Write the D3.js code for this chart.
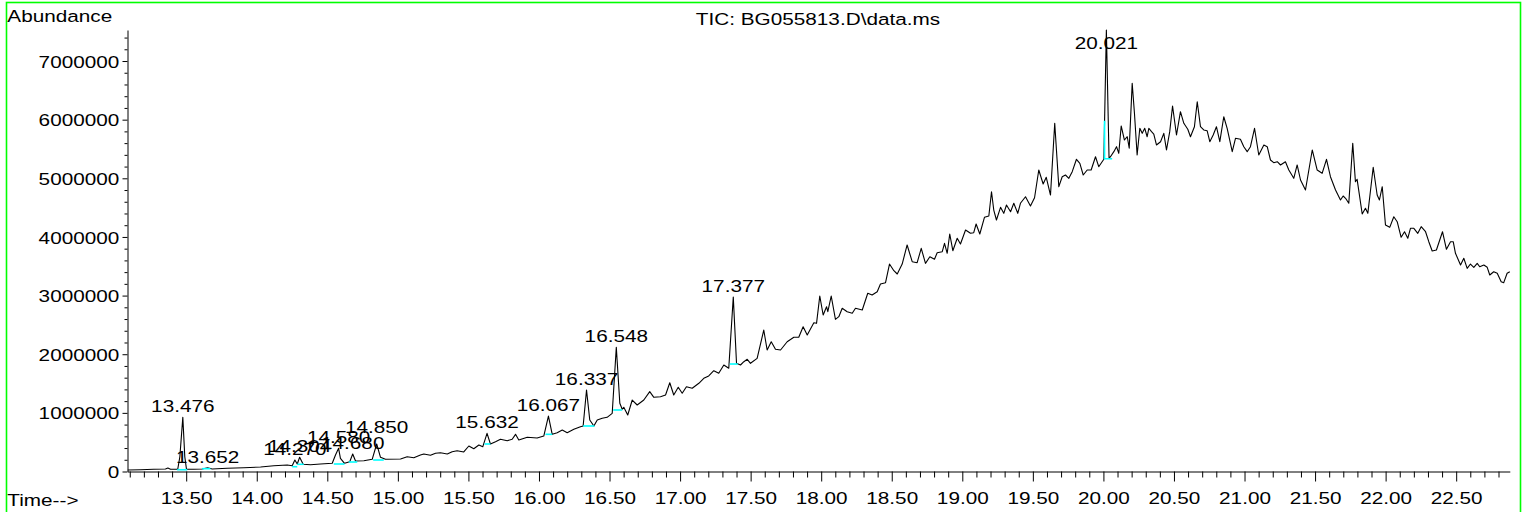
<!DOCTYPE html>
<html><head><meta charset="utf-8">
<script src="https://cdn.jsdelivr.net/npm/d3@7/dist/d3.min.js"></script>
<style>body{margin:0;background:#fff}svg text{font-family:"Liberation Sans",Arial,sans-serif;fill:#000}</style>
</head><body><svg id="c" width="1526" height="512"></svg>
<script>
const times=[13.086,13.176,13.270,13.353,13.370,13.389,13.440,13.455,13.476,13.490,13.502,13.554,13.613,13.652,13.684,13.791,13.908,14.027,14.121,14.216,14.251,14.270,14.287,14.304,14.329,14.381,14.452,14.535,14.558,14.580,14.593,14.622,14.659,14.680,14.700,14.759,14.818,14.850,14.877,14.912,15.019,15.066,15.113,15.160,15.184,15.231,15.267,15.302,15.350,15.385,15.420,15.467,15.503,15.538,15.574,15.602,15.632,15.656,15.692,15.727,15.775,15.810,15.834,15.857,15.917,15.987,16.034,16.067,16.094,16.129,16.165,16.200,16.247,16.294,16.313,16.337,16.360,16.389,16.413,16.448,16.483,16.519,16.548,16.573,16.590,16.601,16.629,16.661,16.696,16.743,16.785,16.814,16.861,16.897,16.927,16.955,16.987,17.015,17.045,17.086,17.133,17.168,17.203,17.239,17.274,17.310,17.345,17.377,17.400,17.428,17.452,17.476,17.499,17.546,17.593,17.617,17.646,17.676,17.712,17.759,17.806,17.841,17.872,17.901,17.948,17.967,17.990,18.014,18.038,18.047,18.071,18.101,18.125,18.149,18.184,18.220,18.243,18.291,18.330,18.361,18.397,18.420,18.456,18.484,18.515,18.539,18.574,18.609,18.645,18.680,18.709,18.739,18.770,18.803,18.822,18.858,18.874,18.893,18.911,18.933,18.964,18.987,19.023,19.058,19.081,19.098,19.124,19.157,19.188,19.207,19.223,19.242,19.271,19.294,19.313,19.342,19.365,19.393,19.412,19.448,19.483,19.512,19.542,19.573,19.595,19.625,19.655,19.684,19.708,19.731,19.755,19.779,19.809,19.833,19.857,19.885,19.913,19.944,19.967,20.003,20.021,20.040,20.050,20.074,20.093,20.109,20.126,20.149,20.169,20.183,20.204,20.220,20.239,20.258,20.275,20.293,20.310,20.322,20.341,20.357,20.376,20.405,20.428,20.447,20.470,20.490,20.518,20.546,20.570,20.598,20.617,20.645,20.665,20.688,20.711,20.735,20.754,20.778,20.801,20.825,20.853,20.877,20.913,20.936,20.971,20.995,21.019,21.042,21.071,21.101,21.137,21.161,21.184,21.207,21.232,21.255,21.290,21.314,21.349,21.373,21.397,21.432,21.480,21.515,21.550,21.581,21.609,21.645,21.680,21.699,21.716,21.739,21.767,21.786,21.798,21.834,21.857,21.874,21.912,21.940,21.956,21.976,21.999,22.029,22.058,22.082,22.110,22.134,22.157,22.176,22.200,22.228,22.252,22.283,22.306,22.330,22.360,22.403,22.431,22.460,22.479,22.495,22.531,22.554,22.578,22.601,22.625,22.649,22.667,22.696,22.720,22.738,22.766,22.791,22.819,22.837,22.861,22.880];
const abundance=[26000,31000,38000,43000,60000,38000,38000,252000,924000,252000,38000,38000,43000,65000,43000,55000,65000,77000,99000,111000,99000,196000,128000,242000,123000,116000,128000,140000,281000,396000,225000,140000,167000,298000,179000,184000,208000,469000,242000,208000,213000,252000,235000,281000,298000,276000,310000,321000,298000,338000,355000,333000,435000,389000,452000,423000,651000,469000,508000,549000,525000,549000,634000,537000,583000,571000,605000,946000,634000,662000,708000,662000,720000,764000,776000,1390000,878000,776000,878000,907000,924000,992000,2118000,1163000,1061000,1095000,963000,1219000,1134000,1219000,1361000,1265000,1276000,1305000,1514000,1305000,1436000,1334000,1446000,1419000,1504000,1589000,1629000,1719000,1675000,1816000,1760000,2976000,1845000,1816000,1872000,1913000,1845000,1930000,2413000,2072000,2213000,2084000,2072000,2213000,2289000,2289000,2469000,2328000,2537000,2527000,2993000,2669000,2810000,2725000,2993000,2595000,2640000,2783000,2725000,2698000,2783000,2754000,3039000,3010000,3066000,3197000,3220000,3538000,3424000,3368000,3538000,3863000,3578000,3561000,3806000,3550000,3663000,3619000,3731000,3748000,3891000,3721000,4050000,3765000,3977000,3880000,4118000,4062000,4072000,4221000,4050000,4335000,4357000,4771000,4459000,4289000,4505000,4403000,4545000,4430000,4574000,4403000,4574000,4686000,4528000,4669000,5141000,4903000,5017000,4715000,5938000,4857000,5027000,5056000,5000000,5113000,5324000,5256000,5056000,5141000,5141000,5368000,5198000,5324000,7529000,5340000,5368000,5454000,5539000,5426000,5892000,5653000,5709000,5512000,6620000,6108000,5397000,5853000,5767000,5853000,5709000,5853000,5795000,5755000,5568000,5624000,5767000,5483000,5795000,6233000,5738000,6136000,5938000,5836000,5709000,5880000,6306000,5880000,5824000,5812000,5624000,5738000,5880000,5624000,6050000,5853000,5454000,5682000,5665000,5539000,5454000,5539000,5853000,5397000,5568000,5539000,5312000,5266000,5283000,5227000,5283000,5141000,5000000,5227000,4971000,4800000,5483000,5141000,5085000,5324000,5027000,4800000,4630000,4698000,4659000,4574000,5597000,4942000,4983000,4391000,4488000,4403000,5188000,4715000,4630000,4857000,4204000,4164000,4345000,4260000,3994000,4089000,3977000,4147000,4147000,4062000,4175000,4089000,3919000,3760000,3777000,4089000,3789000,3919000,3919000,3721000,3521000,3636000,3465000,3538000,3482000,3550000,3492000,3521000,3482000,3351000,3407000,3380000,3237000,3220000,3380000,3407000];

const peakTimes=[13.476,13.652,14.270,14.304,14.580,14.680,14.850,15.632,16.067,16.337,16.548,17.377,20.021];
const peakLabels=["13.476","13.652","14.270","14.304","14.580","14.680","14.850","15.632","16.067","16.337","16.548","17.377","20.021"];
const peakHeights=[924000,65000,196000,242000,396000,298000,469000,651000,946000,1390000,2118000,2976000,7529000];

const baseStart=[13.436,13.613,14.251,14.287,14.546,14.652,14.825,15.614,16.046,16.313,16.526,17.352,20.008];
const baseEnd=[13.507,13.672,14.287,14.333,14.622,14.712,14.900,15.656,16.094,16.393,16.590,17.409,20.062];
const baseLevel=[30000,48000,82000,123000,128000,162000,196000,469000,634000,776000,1049000,1833000,5333000];
const baseTop=[30000,48000,82000,123000,128000,162000,196000,469000,634000,776000,1049000,1833000,5982000];

const yTickValues=[0,1000000,2000000,3000000,4000000,5000000,6000000,7000000];
const xTickValues=[13.5,14,14.5,15,15.5,16,16.5,17,17.5,18,18.5,19,19.5,20,20.5,21,21.5,22,22.5];
const xTickLabels=["13.50","14.00","14.50","15.00","15.50","16.00","16.50","17.00","17.50","18.00","18.50","19.00","19.50","20.00","20.50","21.00","21.50","22.00","22.50"];
const titleText="TIC: BG055813.D\\data.ms";
const yAxisTitle="Abundance";
const xAxisTitle="Time-->";

// ---- layout ----
const FS=17, SX=1.22;
const svg=d3.select("#c");
const x=d3.scaleLinear().domain([13.084,22.88]).range([127.5,1509.8]);
const y=d3.scaleLinear().domain([0,7529000]).range([471.5,30]);

svg.append("rect").attr("x",6.5).attr("y",2.5).attr("width",1514).attr("height",530)
  .attr("fill","none").attr("stroke","#00ff00").attr("stroke-width",1.6);

// y axis
const minorY=d3.range(2,76,2).map(v=>v*100000).filter(v=>v%1000000!==0);
svg.append("g").attr("transform","translate(127.5,0)")
  .call(d3.axisLeft(y).tickValues(minorY).tickSize(3).tickFormat(""))
  .call(g=>g.select(".domain").remove());
const ya=svg.append("g").attr("transform","translate(127.5,0)")
  .call(d3.axisLeft(y).tickValues(yTickValues).tickFormat(d3.format("d")).tickSize(5).tickSizeOuter(0));
ya.selectAll("text").attr("font-size",FS).attr("font-family",null).attr("x",-8.2/SX)
  .attr("transform",`scale(${SX},1)`).attr("dy","0.36em");

// x axis
const minorX=d3.range(131,229).map(v=>v/10).filter(v=>Math.abs(v*2-Math.round(v*2))>1e-6);
svg.append("g").attr("transform","translate(0,471.5)")
  .call(d3.axisBottom(x).tickValues(minorX).tickSize(6).tickFormat(""))
  .call(g=>g.select(".domain").remove());
const xa=svg.append("g").attr("transform","translate(0,471.5)")
  .call(d3.axisBottom(x).tickValues(xTickValues).tickFormat((d,i)=>xTickLabels[i]).tickSize(10).tickSizeOuter(0));
xa.selectAll("text").attr("font-size",FS).attr("font-family",null).attr("y",32.5).attr("dy","0")
  .attr("transform",`scale(${SX},1)`);
svg.selectAll(".domain,.tick line").attr("stroke","#000");
svg.selectAll("g").attr("font-family",null);

// curve
const pts=times.map((t,i)=>[t,abundance[i]]);
svg.append("path").datum(pts)
  .attr("d",d3.line().x(d=>x(d[0])).y(d=>y(d[1])))
  .attr("fill","none").attr("stroke","#000").attr("stroke-width",1.1).attr("stroke-linejoin","round");

// integration baselines
baseStart.forEach((s,i)=>{
  svg.append("path")
    .attr("d",`M${x(s)},${y(baseTop[i])}V${y(baseLevel[i])}H${x(baseEnd[i])}`)
    .attr("fill","none").attr("stroke","#00ffff").attr("stroke-width",1.6);
});

// peak labels
const lift={"14.850":6};
peakTimes.forEach((t,i)=>{
  const by=Math.max(y(peakHeights[i])-5,49)-(lift[peakLabels[i]]||0);
  svg.append("text").attr("transform",`translate(${x(t)},${by}) scale(${SX},1)`)
    .attr("text-anchor","middle").attr("font-size",FS).text(peakLabels[i]);
});

// titles
function label(str,tx,ty,anchor){
  svg.append("text").attr("transform",`translate(${tx},${ty}) scale(${SX},1)`)
    .attr("text-anchor",anchor).attr("font-size",FS).text(str);
}
label(yAxisTitle,7.3,21.7,"start");
label(xAxisTitle,7.3,506,"start");
label(titleText,818,24.5,"middle");
</script></body></html>
